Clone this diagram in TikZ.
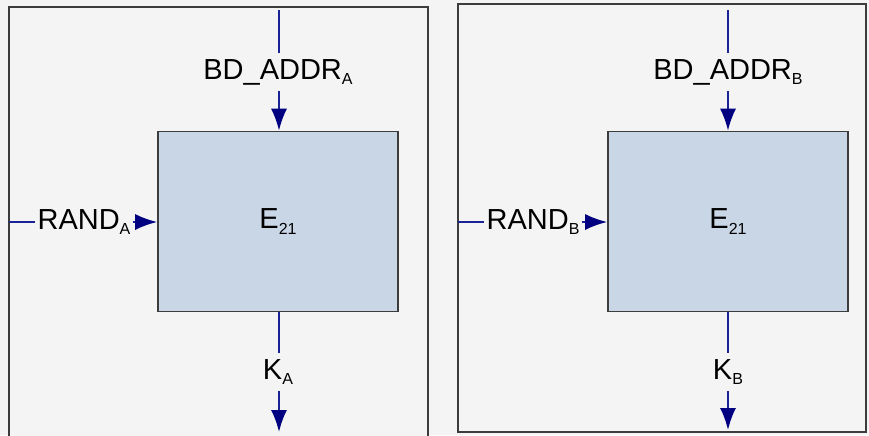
\documentclass[tikz,border=0pt]{standalone}
\usepackage{fontspec}
\setmainfont{Liberation Sans}
\usetikzlibrary{positioning, arrows.meta, calc}
\definecolor{colorFondo}{RGB}{244,244,244}
\definecolor{colorBloque}{RGB}{201,214,230}
\definecolor{colorBorde}{RGB}{60,60,60}
\definecolor{colorLinea}{RGB}{25,35,150}
\definecolor{colorPunta}{RGB}{0,0,128}
\newcommand{\subind}[1]{\raisebox{-0.35ex}{\fontsize{8}{9}\selectfont #1}}

\begin{document}
\begin{tikzpicture}[
	x=0.5pt, y=-0.5pt,
	font=\fontsize{14.5}{16}\selectfont,
	panel/.style={draw=colorBorde, line width=1pt, fill=colorFondo},
	bloque/.style={rectangle, draw=colorBorde, line width=0.8pt, fill=colorBloque,
	               minimum width=120pt, minimum height=90pt, inner sep=0pt},
	etiqueta/.style={inner xsep=1pt, inner ysep=3pt},
	linea/.style={draw=colorLinea, line width=1pt},
	flecha/.style={linea, -{Latex[length=11pt, width=8pt, color=colorPunta]}},
	]

\path[use as bounding box, fill=colorFondo] (0,0) rectangle (869,435);
\clip (0,0) rectangle (869,435);

% Lado A
\draw[panel] (9,7) rectangle (428,445);
\node[bloque] (eA) at (278,221.5) {E\subind{21}};

\coordinate (entAddrA) at (279,10);
\coordinate (entRandA) at (9,222);
\node[etiqueta] (addrA) at (278,72) {BD\_ADDR\subind{A}};
\node[etiqueta] (randA) at (84,222) {RAND\subind{A}};
\node[etiqueta] (kA) at (278,372) {K\subind{A}};
\coordinate (salKA) at (279,432);

\draw[linea] (entAddrA) -- (addrA.north -| entAddrA);
\draw[flecha] (addrA.south -| entAddrA) -- (eA.north -| entAddrA);
\draw[linea] (entRandA) -- (randA.west);
\draw[flecha] (randA.east) -- (eA.west |- randA.east);
\draw[linea] (eA.south -| salKA) -- (kA.north -| salKA);
\draw[flecha] (kA.south -| salKA) -- (salKA);

% Lado B
\draw[panel] (458,4) rectangle (866,432);
\node[bloque] (eB) at (728,221.5) {E\subind{21}};

\coordinate (entAddrB) at (728,10);
\coordinate (entRandB) at (458,222);
\node[etiqueta] (addrB) at (728,72) {BD\_ADDR\subind{B}};
\node[etiqueta] (randB) at (533,222) {RAND\subind{B}};
\node[etiqueta] (kB) at (728,372) {K\subind{B}};
\coordinate (salKB) at (728,430);

\draw[linea] (entAddrB) -- (addrB.north -| entAddrB);
\draw[flecha] (addrB.south -| entAddrB) -- (eB.north -| entAddrB);
\draw[linea] (entRandB) -- (randB.west);
\draw[flecha] (randB.east) -- (eB.west |- randB.east);
\draw[linea] (eB.south -| salKB) -- (kB.north -| salKB);
\draw[flecha] (kB.south -| salKB) -- (salKB);

\end{tikzpicture}
\end{document}
